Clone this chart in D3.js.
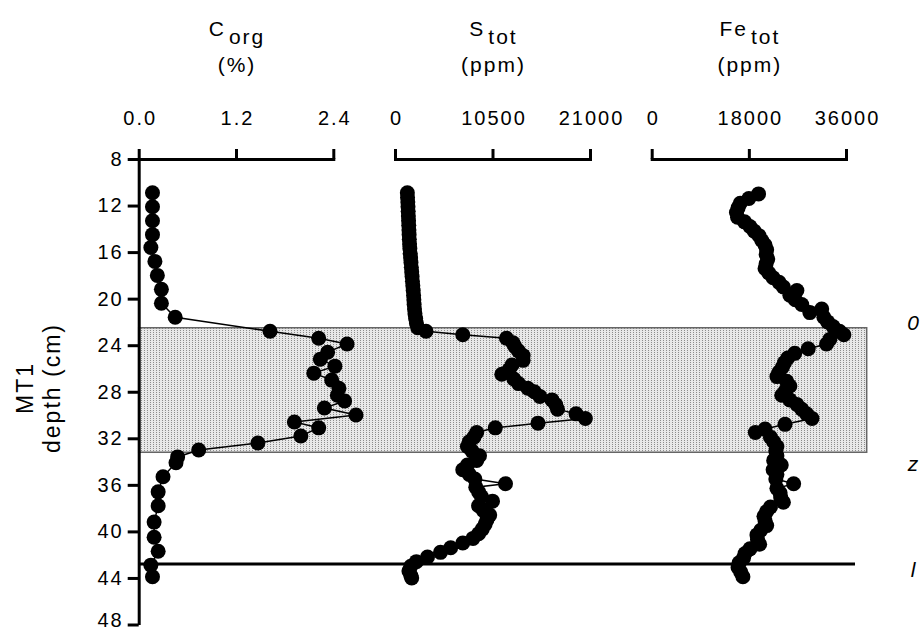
<!DOCTYPE html>
<html><head><meta charset="utf-8">
<script src="https://cdn.jsdelivr.net/npm/d3@7"></script>
<style>
body{margin:0;background:#fff;}
svg text{font-family:"Liberation Sans",Arial,sans-serif;fill:#000;}
</style></head>
<body><svg id="c" width="924" height="633"></svg>
<script>
// ---- data ----
const depthTicks = [8,12,16,20,24,28,32,36,40,44,48];
const corgTicks = [0,1.2,2.4];
const sTicks = [0,10500,21000];
const feTicks = [0,18000,36000];

const corgDepth = [10.9,12.1,13.3,14.5,15.6,16.8,18.0,19.2,20.4,21.6,22.8,23.4,23.9,24.6,25.2,25.8,26.4,27.0,27.7,28.3,28.8,29.4,30.0,30.6,31.1,31.8,32.4,33.0,33.6,34.1,35.3,36.6,37.8,39.2,40.5,41.7,42.9,43.9];
const corgValue = [0.17,0.17,0.17,0.17,0.15,0.20,0.23,0.28,0.28,0.45,1.62,2.22,2.57,2.33,2.24,2.42,2.16,2.38,2.47,2.45,2.54,2.29,2.68,1.92,2.22,2.00,1.47,0.74,0.48,0.46,0.30,0.24,0.24,0.19,0.19,0.24,0.15,0.17];

const sDepth = [10.9,11.3,11.7,12.1,12.5,12.9,13.3,13.7,14.1,14.5,14.9,15.3,15.7,16.1,16.5,16.9,17.3,17.7,18.1,18.5,18.9,19.3,19.7,20.1,20.5,20.9,21.3,21.7,22.1,22.5,22.8,23.1,23.4,23.8,24.1,24.5,24.9,25.3,25.7,26.1,26.5,26.9,27.3,27.7,28.0,28.4,28.7,29.1,29.5,29.9,30.3,30.7,31.1,31.5,31.9,32.3,32.7,33.1,33.5,33.9,34.3,34.7,35.1,35.5,35.9,36.2,36.6,37.0,37.4,37.8,38.2,38.6,39.0,39.4,39.8,40.2,40.6,41.0,41.4,41.8,42.2,42.6,43.0,43.4,43.8,44.0];
const sValue = [1330,1350,1380,1400,1420,1440,1460,1480,1500,1520,1540,1570,1600,1640,1680,1720,1760,1800,1840,1880,1920,1960,2000,2030,2060,2100,2150,2220,2300,2450,3340,7300,12000,12700,12900,13300,13800,13800,12600,12300,11500,12800,13300,14300,15000,15600,16900,17300,17500,19500,20500,15400,10800,8800,8500,8000,7800,8300,9100,8800,7800,7300,8000,8600,11900,8700,9000,9300,10500,9000,9500,10200,9900,9700,9400,9000,8400,7300,6000,4900,3500,2300,1700,1500,1700,1800];

const feDepth = [11.0,11.4,11.8,12.2,12.6,13.0,13.4,13.8,14.2,14.6,15.0,15.4,15.8,16.2,16.6,17.0,17.4,17.8,18.2,18.6,19.0,19.3,19.7,20.1,20.5,20.9,21.2,21.6,22.0,22.4,22.8,23.1,23.5,23.9,24.3,24.7,25.1,25.5,25.9,26.3,26.7,27.1,27.5,27.9,28.3,28.7,29.1,29.5,29.9,30.3,30.8,31.2,31.5,31.9,32.3,32.7,33.1,33.5,33.9,34.3,34.7,35.1,35.5,35.9,36.3,36.7,37.1,37.5,37.9,38.3,38.7,39.1,39.5,39.9,40.3,40.7,41.1,41.5,41.9,42.3,42.7,43.1,43.5,43.9];
const feValue = [19800,18000,16400,16000,15700,15900,17200,18200,19000,19900,20400,21000,21300,21200,21500,21200,21000,21700,22500,23600,24400,26900,25600,26600,27800,31500,29300,31900,32600,33600,34800,35600,33000,32400,29000,26500,25200,24600,24200,23600,23200,25000,25600,24800,24100,25600,26900,27800,28700,29700,24700,21000,19200,22000,22600,23200,23000,23200,22600,24000,22500,23200,23000,26300,23200,23800,23900,24400,22000,21300,20800,21000,21300,20200,19500,19600,20000,18200,17300,17000,16200,16000,16500,16900];

const bandDepths = [22.5, 33.2];
const lineDepth = 42.8;
const zoneLabels = ["0","z","l"];
const zoneDepths = [22.0, 34.1, 43.2];

// ---- drawing ----
const svg = d3.select("#c");
const y = d3.scaleLinear().domain([8,48]).range([159,624.5]);
const xC = d3.scaleLinear().domain([0,2.4]).range([138.7,333.3]);
const xS = d3.scaleLinear().domain([0,21000]).range([395,590]);
const xF = d3.scaleLinear().domain([0,36000]).range([651.7,846]);

const defs = svg.append("defs");
const pat = defs.append("pattern").attr("id","dots").attr("width",3).attr("height",2).attr("patternUnits","userSpaceOnUse");
pat.append("rect").attr("width",3).attr("height",2).attr("fill","#e8e8e8");
pat.append("rect").attr("x",0).attr("y",0).attr("width",1).attr("height",1).attr("fill","#8c8c8c");

// band
svg.append("rect").attr("x",xC(0)).attr("y",y(bandDepths[0]))
  .attr("width",866.7-xC(0)).attr("height",y(bandDepths[1])-y(bandDepths[0]))
  .attr("fill","url(#dots)").attr("stroke","#666").attr("stroke-width",1.5);

// line l
svg.append("line").attr("x1",xC(0)).attr("x2",855).attr("y1",y(lineDepth)).attr("y2",y(lineDepth))
  .attr("stroke","#000").attr("stroke-width",3);

const fs = 20, ls = 2;
function styleAxis(g){
  g.selectAll("path,line").attr("stroke","#000").attr("stroke-width",3);
  g.selectAll("text").attr("font-size",fs).attr("letter-spacing",ls).attr("font-family","Liberation Sans, Arial, sans-serif").attr("fill","#000");
}
// top axes
[[xC,corgTicks,d3.format(".1f")],[xS,sTicks,d3.format("d")],[xF,feTicks,d3.format("d")]].forEach(([sc,tv,f])=>{
  const g = svg.append("g").attr("transform",`translate(0,${y(8)})`)
    .call(d3.axisTop(sc).tickValues(tv).tickFormat(f).tickSize(10).tickSizeOuter(0).tickPadding(24));
  g.select(".domain").attr("stroke-linecap","square");
  styleAxis(g);
  g.selectAll("text").attr("dx",ls/2);
});
// left axis
const gy = svg.append("g").attr("transform",`translate(${xC(0)},0)`)
  .call(d3.axisLeft(y).tickValues(depthTicks).tickSize(11).tickSizeOuter(0).tickPadding(6));
styleAxis(gy);
gy.selectAll("text").attr("dx",ls).attr("dy",d=>d===48?"0.12em":"0.32em");

// series
function series(depths, vals, xs){
  const pts = depths.map((d,i)=>[xs(vals[i]), y(d)]);
  svg.append("path").attr("d",d3.line()(pts)).attr("fill","none").attr("stroke","#000").attr("stroke-width",1.5);
  svg.append("g").selectAll("circle").data(pts).join("circle")
    .attr("cx",p=>p[0]).attr("cy",p=>p[1]).attr("r",7.5).attr("fill","#000");
}
series(corgDepth,corgValue,xC);
series(sDepth,sValue,xS);
series(feDepth,feValue,xF);

// titles
const titles = [["C","org","(%)",xC],["S","tot","(ppm)",xS],["Fe","tot","(ppm)",xF]];
titles.forEach(([m,sub,unit,sc])=>{
  const cx = (sc.range()[0]+sc.range()[1])/2;
  const t = svg.append("text").attr("x",cx+ls/2).attr("y",36).attr("text-anchor","middle")
    .attr("font-size",21).attr("letter-spacing",ls);
  t.append("tspan").text(m);
  t.append("tspan").attr("dy",8).attr("dx",3).text(sub);
  svg.append("text").attr("x",cx+ls/2).attr("y",72).attr("text-anchor","middle")
    .attr("font-size",21).attr("letter-spacing",ls).text(unit);
});

// y title
const yt = svg.append("text").attr("transform","translate(33,388) rotate(-90)").attr("text-anchor","middle")
  .attr("font-size",23).attr("letter-spacing",ls);
yt.append("tspan").attr("x",0).attr("y",0).text("MT1");
yt.append("tspan").attr("x",0).attr("y",27).text("depth (cm)");

// zone labels
svg.append("g").selectAll("text").data(zoneLabels).join("text")
  .attr("x",913).attr("y",(d,i)=>y(zoneDepths[i])+8).attr("text-anchor","middle")
  .attr("font-size",21).attr("font-style","italic").text(d=>d);
</script></body></html>
